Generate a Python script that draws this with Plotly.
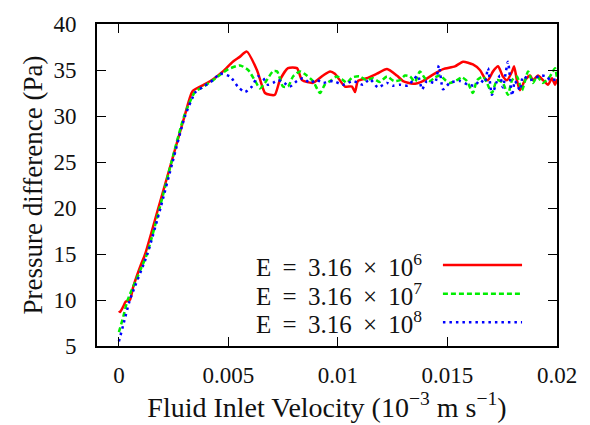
import plotly.graph_objects as go

# ---- data (velocity as shown on axis, pressure in Pa) ----
x_red = [0, 0.00005, 0.0002, 0.0003, 0.0005, 0.00065, 0.001, 0.0012, 0.0018, 0.0024, 0.003, 0.00336,
         0.0038, 0.0043, 0.00475, 0.0052, 0.0055, 0.00584, 0.0063, 0.00667, 0.0069, 0.00712, 0.00735,
         0.00772, 0.00813, 0.00836, 0.00886, 0.00932, 0.00964, 0.00986, 0.01032, 0.01064, 0.01078,
         0.01091, 0.01132, 0.01178, 0.01224, 0.01269, 0.01297, 0.01343, 0.01388, 0.01434, 0.0148,
         0.01534, 0.01571, 0.01616, 0.01648, 0.01671, 0.01685, 0.01708, 0.01731, 0.01753, 0.01772,
         0.01795, 0.01804, 0.01817, 0.01831, 0.01854, 0.01877, 0.0189, 0.01913, 0.01936, 0.01959,
         0.01977, 0.01991, 0.02]
y_red = [8.8, 8.7, 9.3, 9.8, 10.0, 11.4, 13.8, 15.0, 20.0, 25.0, 30.0, 32.7,
         33.3, 34.0, 34.85, 35.9, 36.4, 37.0, 35.0, 32.5, 32.3, 32.3, 33.9,
         35.2, 35.2, 33.9, 33.6, 34.4, 34.85, 34.6, 33.2, 33.2, 32.6,
         33.8, 34.1, 34.6, 35.1, 34.4, 33.8, 33.5, 33.8, 34.5, 35.1,
         35.4, 35.9, 35.6, 35.0, 34.1, 33.9, 34.85, 35.4, 34.3, 33.9,
         34.85, 35.4, 33.9, 32.8, 33.9, 34.4, 33.9, 34.4, 33.9, 33.4,
         34.1, 33.4, 34.0]

x_green = [0, 0.0002, 0.0004, 0.00128, 0.00186, 0.0024, 0.00298, 0.00347, 0.0038, 0.0043, 0.00475,
           0.005, 0.00553, 0.0059, 0.0062, 0.00644, 0.00667, 0.00703, 0.00722, 0.00749, 0.00772,
           0.00795, 0.00827, 0.00858, 0.00886, 0.00918, 0.0094, 0.00964, 0.00995, 0.01018, 0.01041,
           0.01065, 0.011, 0.0113, 0.0116, 0.0119, 0.01224, 0.01255, 0.01283, 0.01306, 0.01329,
           0.01352, 0.01374, 0.01397, 0.0142, 0.01443, 0.01466, 0.0149, 0.01511, 0.01543, 0.01566,
           0.01589, 0.01616, 0.01635, 0.01662, 0.0168, 0.01703, 0.01726, 0.01753, 0.01776, 0.01795,
           0.01817, 0.0184, 0.01868, 0.0189, 0.01909, 0.01936, 0.01968, 0.01991, 0.02]
y_green = [6.5, 8.2, 10.0, 15.0, 20.0, 25.0, 30.0, 32.6, 33.1, 33.9, 34.7,
           35.1, 35.5, 35.0, 33.9, 33.0, 33.6, 34.85, 34.85, 33.2, 33.2,
           34.3, 34.85, 34.4, 33.8, 32.5, 33.4, 33.8, 34.3, 34.0, 33.6,
           34.2, 34.3, 33.9, 34.1, 33.7, 34.3, 33.8, 33.9, 34.4, 34.3,
           33.7, 34.85, 34.1, 33.8, 34.2, 34.4, 33.9, 33.6, 33.9, 34.2,
           33.8, 32.5, 33.9, 34.3, 33.6, 32.5, 33.9, 33.6, 32.3, 33.9,
           34.3, 32.8, 34.85, 33.6, 34.3, 33.6, 34.3, 35.2, 34.0]

x_blue = [0, 0.0002, 0.0005, 0.0013, 0.0019, 0.00245, 0.00302, 0.0035, 0.0038, 0.0043, 0.00461,
          0.00507, 0.00543, 0.00575, 0.00607, 0.00635, 0.00658, 0.0068, 0.00703, 0.00726, 0.00749,
          0.00781, 0.00813, 0.0084, 0.00872, 0.00904, 0.00932, 0.00977, 0.01023, 0.01069, 0.01114,
          0.01146, 0.01183, 0.01224, 0.01251, 0.01283, 0.0132, 0.01343, 0.01365, 0.01384, 0.01406,
          0.01443, 0.01461, 0.0148, 0.01511, 0.01557, 0.01594, 0.01626, 0.01648, 0.0167, 0.01685,
          0.01703, 0.01726, 0.0174, 0.01753, 0.01776, 0.01795, 0.01808, 0.01831, 0.01845, 0.01877,
          0.019, 0.01922, 0.01954, 0.01968, 0.02]
y_blue = [5.5, 7.3, 10.0, 15.0, 20.0, 25.0, 30.0, 32.6, 33.1, 33.9, 34.6,
          34.3, 33.2, 32.6, 33.2, 34.3, 34.1, 33.4, 33.6, 33.9, 33.7,
          33.2, 33.8, 34.1, 33.6, 33.9, 33.6, 33.8, 33.4, 33.8, 33.4,
          34.0, 33.1, 33.6, 33.3, 33.4, 33.3, 33.9, 34.4, 32.9, 33.8,
          33.6, 35.5, 32.9, 33.6, 33.8, 33.4, 33.3, 33.9, 33.6, 35.2,
          32.3, 33.8, 34.4, 33.1, 35.9, 32.2, 33.8, 32.8, 34.3, 33.9,
          34.1, 34.4, 34.3, 33.9, 34.0]

GAP = "\u00a0\u2009"
series_names = [f"E{GAP}={GAP}3.16{GAP}×{GAP}10<sup>6</sup>",
                f"E{GAP}={GAP}3.16{GAP}×{GAP}10<sup>7</sup>",
                f"E{GAP}={GAP}3.16{GAP}×{GAP}10<sup>8</sup>"]
series_colors = ["#ff0000", "#00ee00", "#0000ff"]
series_dash = ["solid", "5px,3px", "2.5px,4px"]

x_ticks = [0, 0.005, 0.01, 0.015, 0.02]
x_tick_text = ["0", "0.005", "0.01", "0.015", "0.02"]
y_ticks = [5, 10, 15, 20, 25, 30, 35, 40]

FONT = "Liberation Serif"
FS_TICK = 23
FS_LEG = 25

fig = go.Figure()
for xs, ys, nm, col, ds in zip([x_red, x_green, x_blue], [y_red, y_green, y_blue],
                               series_names, series_colors, series_dash):
    fig.add_trace(go.Scatter(x=xs, y=ys, mode="lines", name=nm, showlegend=False,
                             line=dict(color=col, width=2.5, dash=ds, shape="spline", smoothing=0.6)))

# manual legend (text left of the sample, as in the reference)
rows_y = [0.2515, 0.1626, 0.0736]
for nm, col, ds, ry in zip(series_names, series_colors, series_dash, rows_y):
    fig.add_annotation(x=0.711, y=ry, xref="paper", yref="paper", text=nm,
                       showarrow=False, xanchor="right", yanchor="middle",
                       font=dict(family=FONT, size=FS_LEG))
    fig.add_shape(type="line", xref="paper", yref="paper", x0=0.752, x1=0.924, y0=ry, y1=ry,
                  line=dict(color=col, width=2.5, dash=ds))

axis_common = dict(showgrid=False, zeroline=False, showline=True, linecolor="black", linewidth=1.6,
                   mirror="ticks", ticks="inside", ticklen=9, tickwidth=1.2, tickcolor="black",
                   tickfont=dict(family=FONT, size=FS_TICK))

fig.update_xaxes(range=[-0.001, 0.02], tickvals=x_ticks, ticktext=x_tick_text,
                 ticklabelstandoff=8,
                 title=dict(text="Fluid Inlet Velocity\u00a0(10<sup>−3</sup>\u00a0m\u00a0s<sup>−1</sup>)",
                            font=dict(family=FONT, size=28), standoff=0),
                 **axis_common)
fig.update_yaxes(range=[5, 40], tickvals=y_ticks, ticklabelstandoff=14,
                 title=dict(text="Pressure difference (Pa)",
                            font=dict(family=FONT, size=27), standoff=3),
                 **axis_common)

fig.update_layout(width=590, height=425, margin=dict(l=97, r=33, t=20, b=79),
                  paper_bgcolor="white", plot_bgcolor="white",
                  font=dict(family=FONT, size=FS_TICK, color="#111111"))

fig.write_html("out.html", post_script="document.body.style.margin='0';",
               config={"displayModeBar": False})
